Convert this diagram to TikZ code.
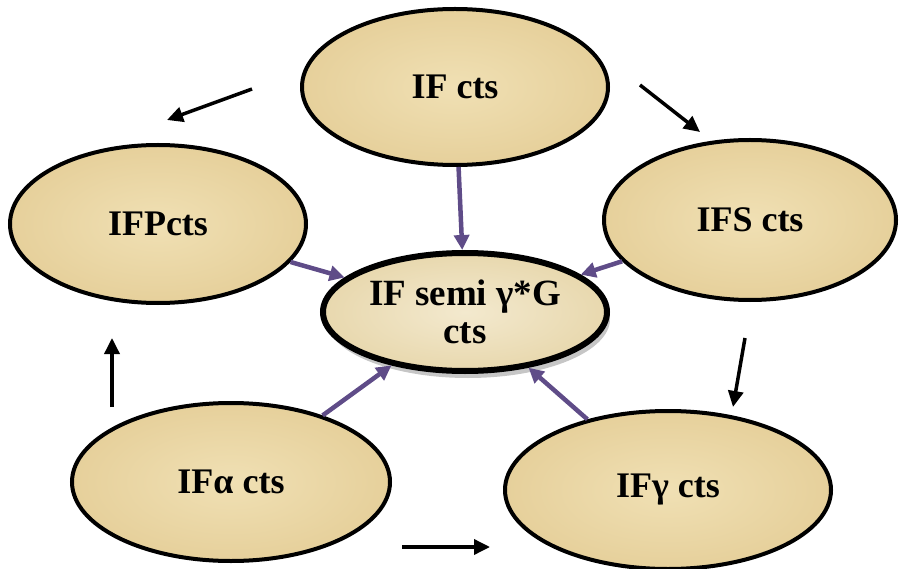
\documentclass[tikz,border=0pt]{standalone}
\usepackage{fontspec}
\setmainfont{Liberation Serif}
\usetikzlibrary{shapes.geometric,arrows.meta,shadows}
\definecolor{papyruslight}{RGB}{240,224,180}
\definecolor{papyrusdark}{RGB}{230,208,155}
\definecolor{centerlight}{RGB}{243,233,206}
\definecolor{centerdark}{RGB}{232,216,174}
\definecolor{arrowpurple}{RGB}{95,76,136}
\tikzset{
  oval/.style={ellipse, draw=black, line width=4pt, inner sep=0pt,
    inner color=papyruslight, outer color=papyrusdark,
    font=\fontsize{36}{40}\selectfont\bfseries, align=center},
  hub/.style={oval, line width=6pt, inner color=centerlight, outer color=centerdark,
    font=\fontsize{37}{41}\selectfont\bfseries,
    drop shadow={opacity=0.45, shadow xshift=3pt, shadow yshift=-7pt}},
  linkarrow/.style={draw=arrowpurple, line width=4.5pt, -{Triangle[length=15pt,width=15pt]}},
  flowarrow/.style={draw=black, line width=3.5pt, -{Triangle[length=16pt,width=15pt]}}
}
\begin{document}
\begin{tikzpicture}[x=1pt,y=-1pt]
\useasboundingbox (0,0) rectangle (899,569);
\node[oval, minimum width=306pt, minimum height=156pt] (ifcts) at (455,87) {IF cts};
\node[oval, minimum width=296pt, minimum height=158pt] (ifp) at (158,224) {IFPcts};
\node[oval, minimum width=292pt, minimum height=160pt] (ifs) at (750,220) {IFS cts};
\node[oval, minimum width=318pt, minimum height=158pt] (ifa) at (231,482) {IFα cts};
\node[oval, minimum width=326pt, minimum height=158pt] (ifg) at (668,490) {IFγ cts};
\node[hub, minimum width=284pt, minimum height=118pt] (hub) at (465,312) {IF semi γ*G\\[-3pt]cts};
\draw[linkarrow] (ifcts) -- (hub);
\draw[linkarrow] (ifp) -- (hub);
\draw[linkarrow] (ifs) -- (hub);
\draw[linkarrow] (ifa) -- (hub);
\draw[linkarrow] (ifg) -- (hub);
\coordinate (a1s) at (252,89);  \coordinate (a1e) at (167,120);
\coordinate (a2s) at (640,85);  \coordinate (a2e) at (700,132);
\coordinate (a3s) at (745,338); \coordinate (a3e) at (733,407);
\coordinate (a4s) at (112,407); \coordinate (a4e) at (112,338);
\coordinate (a5s) at (402,547); \coordinate (a5e) at (490,547);
\draw[flowarrow] (a1s) -- (a1e);
\draw[flowarrow] (a2s) -- (a2e);
\draw[flowarrow] (a3s) -- (a3e);
\draw[flowarrow] (a4s) -- (a4e);
\draw[flowarrow] (a5s) -- (a5e);
\end{tikzpicture}
\end{document}
